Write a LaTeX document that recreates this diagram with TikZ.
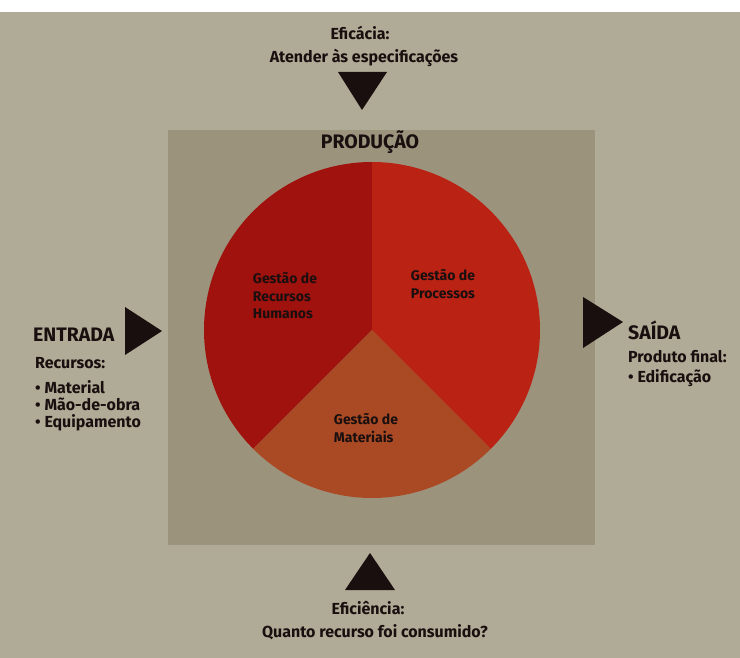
\documentclass[tikz,border=0pt]{standalone}
\usepackage{fontspec}
\setmainfont{Fira Sans}
\definecolor{bgc}{RGB}{176,171,150}
\definecolor{sqc}{RGB}{156,147,125}
\definecolor{secA}{RGB}{160,18,14}
\definecolor{secB}{RGB}{186,34,20}
\definecolor{secC}{RGB}{170,74,36}
\definecolor{txt}{RGB}{25,15,15}
\begin{document}
\begin{tikzpicture}[x=1pt,y=-1pt,
  lbl/.style={font=\bfseries\fontsize{16}{17}\selectfont, inner sep=0pt, text=txt, align=left},
  inlbl/.style={font=\bfseries\fontsize{14}{17.5}\selectfont, inner sep=0pt, text=txt, align=left},
  head/.style={font=\bfseries\fontsize{19.5}{21}\selectfont, inner sep=0pt, text=txt},
  tri/.style={fill=txt}]
\useasboundingbox (0,0) rectangle (740,658);
\fill[white] (0,0) rectangle (740,658);
\fill[bgc] (0,12) rectangle (740,658);
\fill[sqc] (168,130) rectangle (595,545);
\begin{scope}[shift={(372,330)}, x=1pt, y=1pt]
  \fill[secA] (0,0) -- (90:168) arc[start angle=90, end angle=225, radius=168] -- cycle;
  \fill[secC] (0,0) -- (225:168) arc[start angle=225, end angle=315, radius=168] -- cycle;
  \fill[secB] (0,0) -- (315:168) arc[start angle=315, end angle=450, radius=168] -- cycle;
\end{scope}
% triangles
\fill[tri] (338,72) -- (387,72) -- (362,110) -- cycle;
\fill[tri] (125,307) -- (162,331) -- (125,355) -- cycle;
\fill[tri] (583,297) -- (623,322) -- (583,348) -- cycle;
\fill[tri] (345,590) -- (395,590) -- (370,553) -- cycle;
% texts
\node[lbl] (eficacia) at (360,33) {Eficácia:};
\node[lbl] (atender) at (364,58) {Atender às especificações};
\node[head] (producao) at (370,142) {PRODUÇÃO};
\node[inlbl] (rh) at (285,296) {Gestão de\\Recursos\\Humanos};
\node[inlbl] (proc) at (443,284) {Gestão de\\Processos};
\node[inlbl] (mat) at (366,428) {Gestão de\\Materiais};
\node[head, anchor=west] (entrada) at (33,335) {ENTRADA};
\node[lbl, anchor=west] (recursos) at (35,363) {Recursos:};
\node[lbl, anchor=north west] (lista) at (35,380) {• Material\\• Mão-de-obra\\• Equipamento};
\node[head, anchor=west] (saida) at (628,330) {SAÍDA};
\node[lbl, anchor=west] (produto) at (628,357) {Produto final:};
\node[lbl, anchor=west] (edif) at (628,378) {• Edificação};
\node[lbl] (eficiencia) at (368,608) {Eficiência:};
\node[lbl] (quanto) at (375,632) {Quanto recurso foi consumido?};
\end{tikzpicture}
\end{document}
